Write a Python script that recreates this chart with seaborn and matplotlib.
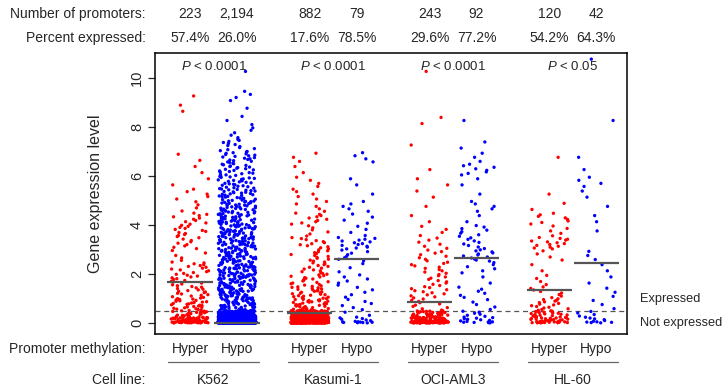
import numpy as np
import pandas as pd
import seaborn as sns
import matplotlib.pyplot as plt
from matplotlib import transforms

# labels and summary numbers printed on the figure
cell_lines = ['K562', 'Kasumi-1', 'OCI-AML3', 'HL-60']
methylation = ['Hyper', 'Hypo']
n_promoters = ['223', '2,194', '882', '79', '243', '92', '120', '42']
pct_expressed = ['57.4%', '26.0%', '17.6%', '78.5%', '29.6%', '77.2%', '54.2%', '64.3%']
p_labels = ['< 0.0001', '< 0.0001', '< 0.0001', '< 0.05']
medians = [1.65, 0.0, 0.40, 2.62, 0.84, 2.65, 1.36, 2.44]

# point counts per expression bin
bin_edges = [0, 0.05, 0.25, 0.5, 1, 1.5, 2, 2.5, 3, 3.5, 4, 4.5, 5, 5.5,
             6, 6.5, 7, 7.5, 8, 8.5, 9, 9.5, 10, 10.5, 11]
k562_hyper = [30, 45, 20, 28, 18, 14, 14, 5, 9, 12, 10, 4, 5, 2, 2, 2, 0, 0, 0, 2, 1, 0, 0, 0]
k562_hypo = [1100, 360, 164, 54, 60, 55, 52, 50, 48, 48, 42, 38, 30, 25, 22, 20, 12, 5, 3, 1, 4, 0, 1, 0]
kasumi_hyper = [300, 280, 147, 38, 25, 18, 14, 13, 12, 6, 10, 5, 5, 4, 2, 3, 0, 0, 0, 0, 0, 0, 0, 0]
kasumi_hypo = [8, 7, 2, 6, 5, 6, 3, 8, 14, 4, 4, 5, 1, 2, 0, 4, 0, 0, 0, 0, 0, 0, 0, 0]
oci_hyper = [80, 60, 31, 10, 12, 10, 10, 8, 6, 4, 2, 1, 2, 2, 1, 0, 1, 0, 2, 0, 0, 0, 1, 0]
oci_hypo = [6, 9, 6, 5, 6, 2, 6, 12, 8, 8, 2, 5, 1, 2, 8, 3, 2, 0, 1, 0, 0, 0, 0, 0]
hl60_hyper = [15, 22, 18, 16, 8, 4, 2, 4, 14, 5, 8, 2, 1, 0, 0, 1, 0, 0, 0, 0, 0, 0, 0, 0]
hl60_hypo = [5, 6, 4, 3, 3, 2, 2, 3, 0, 1, 2, 1, 2, 4, 1, 1, 0, 0, 1, 0, 0, 0, 0, 1]

groups = [k562_hyper, k562_hypo, kasumi_hyper, kasumi_hypo,
          oci_hyper, oci_hypo, hl60_hyper, hl60_hypo]

gap = 2.55  # distance between cell-line pairs (Hyper->Hypo distance is 1)
positions = [c * gap + m for c in range(len(cell_lines)) for m in range(2)]

rows = []
for g, counts in enumerate(groups):
    for lo, hi, n in zip(bin_edges[:-1], bin_edges[1:], counts):
        if n == 0:
            continue
        vals = lo + (np.arange(n) + 0.5) / n * (hi - lo)
        for v in vals:
            rows.append((positions[g], methylation[g % 2], v))
df = pd.DataFrame(rows, columns=['pos', 'meth', 'expr'])

sns.set_style('ticks')
plt.rcParams['font.family'] = ['Liberation Sans', 'DejaVu Sans']
plt.rcParams['mathtext.fontset'] = 'custom'
plt.rcParams['mathtext.it'] = 'Liberation Sans:italic'
plt.rcParams['mathtext.rm'] = 'Liberation Sans'

fig = plt.figure(figsize=(7.27, 3.9), dpi=100)
ax = fig.add_axes([0.2132, 0.1436, 0.6492, 0.7205])

np.random.seed(7)
sns.stripplot(data=df, x='pos', y='expr', hue='meth', native_scale=True,
              orient='x', palette={'Hyper': '#ff0000', 'Hypo': '#0000ff'},
              jitter=0.4, size=2.4, linewidth=0, legend=False, ax=ax, zorder=2)

ax.hlines(medians, [p - 0.48 for p in positions], [p + 0.48 for p in positions],
          color='#555555', lw=1.6, zorder=3)
ax.axhline(0.5, color='#555555', ls=(0, (4, 3)), lw=0.9, zorder=1)

ax.set_xlim(-0.745, 9.30)
ax.set_ylim(-0.45, 11.0)
ax.set_xticks([])
ax.set_xlabel('')
ax.set_yticks(range(0, 11, 2))
ax.set_yticklabels([str(v) for v in range(0, 11, 2)], rotation=90, va='center', fontsize=10.5)
ax.tick_params(axis='y', length=5, width=0.9, pad=3)
ax.set_ylabel('Gene expression level', fontsize=11.5, labelpad=19)
for s in ax.spines.values():
    s.set_visible(True)
    s.set_linewidth(1.1)
    s.set_color('black')

# P values above each pair
for c, lab in enumerate(p_labels):
    ax.text(c * gap + 0.5, 10.45, r'$\mathit{P}$' + ' ' + lab, ha='center', va='center', fontsize=9.5)

# right-hand annotations
ax.text(9.57, 0.98, 'Expressed', ha='left', va='center', fontsize=9.2, clip_on=False)
ax.text(9.57, 0.0, 'Not expressed', ha='left', va='center', fontsize=9.2, clip_on=False)

# rows of text outside the axes
tr = transforms.blended_transform_factory(ax.transData, fig.transFigure)
lx = 0.2
fig.text(lx, 0.964, 'Number of promoters:', ha='right', va='center', fontsize=10)
fig.text(lx, 0.903, 'Percent expressed:', ha='right', va='center', fontsize=10)
fig.text(lx, 0.105, 'Promoter methylation:', ha='right', va='center', fontsize=10)
fig.text(lx, 0.026, 'Cell line:', ha='right', va='center', fontsize=10)
for g, p in enumerate(positions):
    ax.text(p, 0.964, n_promoters[g], transform=tr, ha='center', va='center', fontsize=10)
    ax.text(p, 0.903, pct_expressed[g], transform=tr, ha='center', va='center', fontsize=10)
    ax.text(p, 0.105, methylation[g % 2], transform=tr, ha='center', va='center', fontsize=10)
for c, name in enumerate(cell_lines):
    x0 = c * gap
    ax.plot([x0 - 0.46, x0 + 1.46], [0.072, 0.072], transform=tr, color='#666666',
            lw=0.9, clip_on=False)
    ax.text(x0 + 0.5, 0.026, name, transform=tr, ha='center', va='center', fontsize=10)

fig.savefig('out.png', dpi=100)
